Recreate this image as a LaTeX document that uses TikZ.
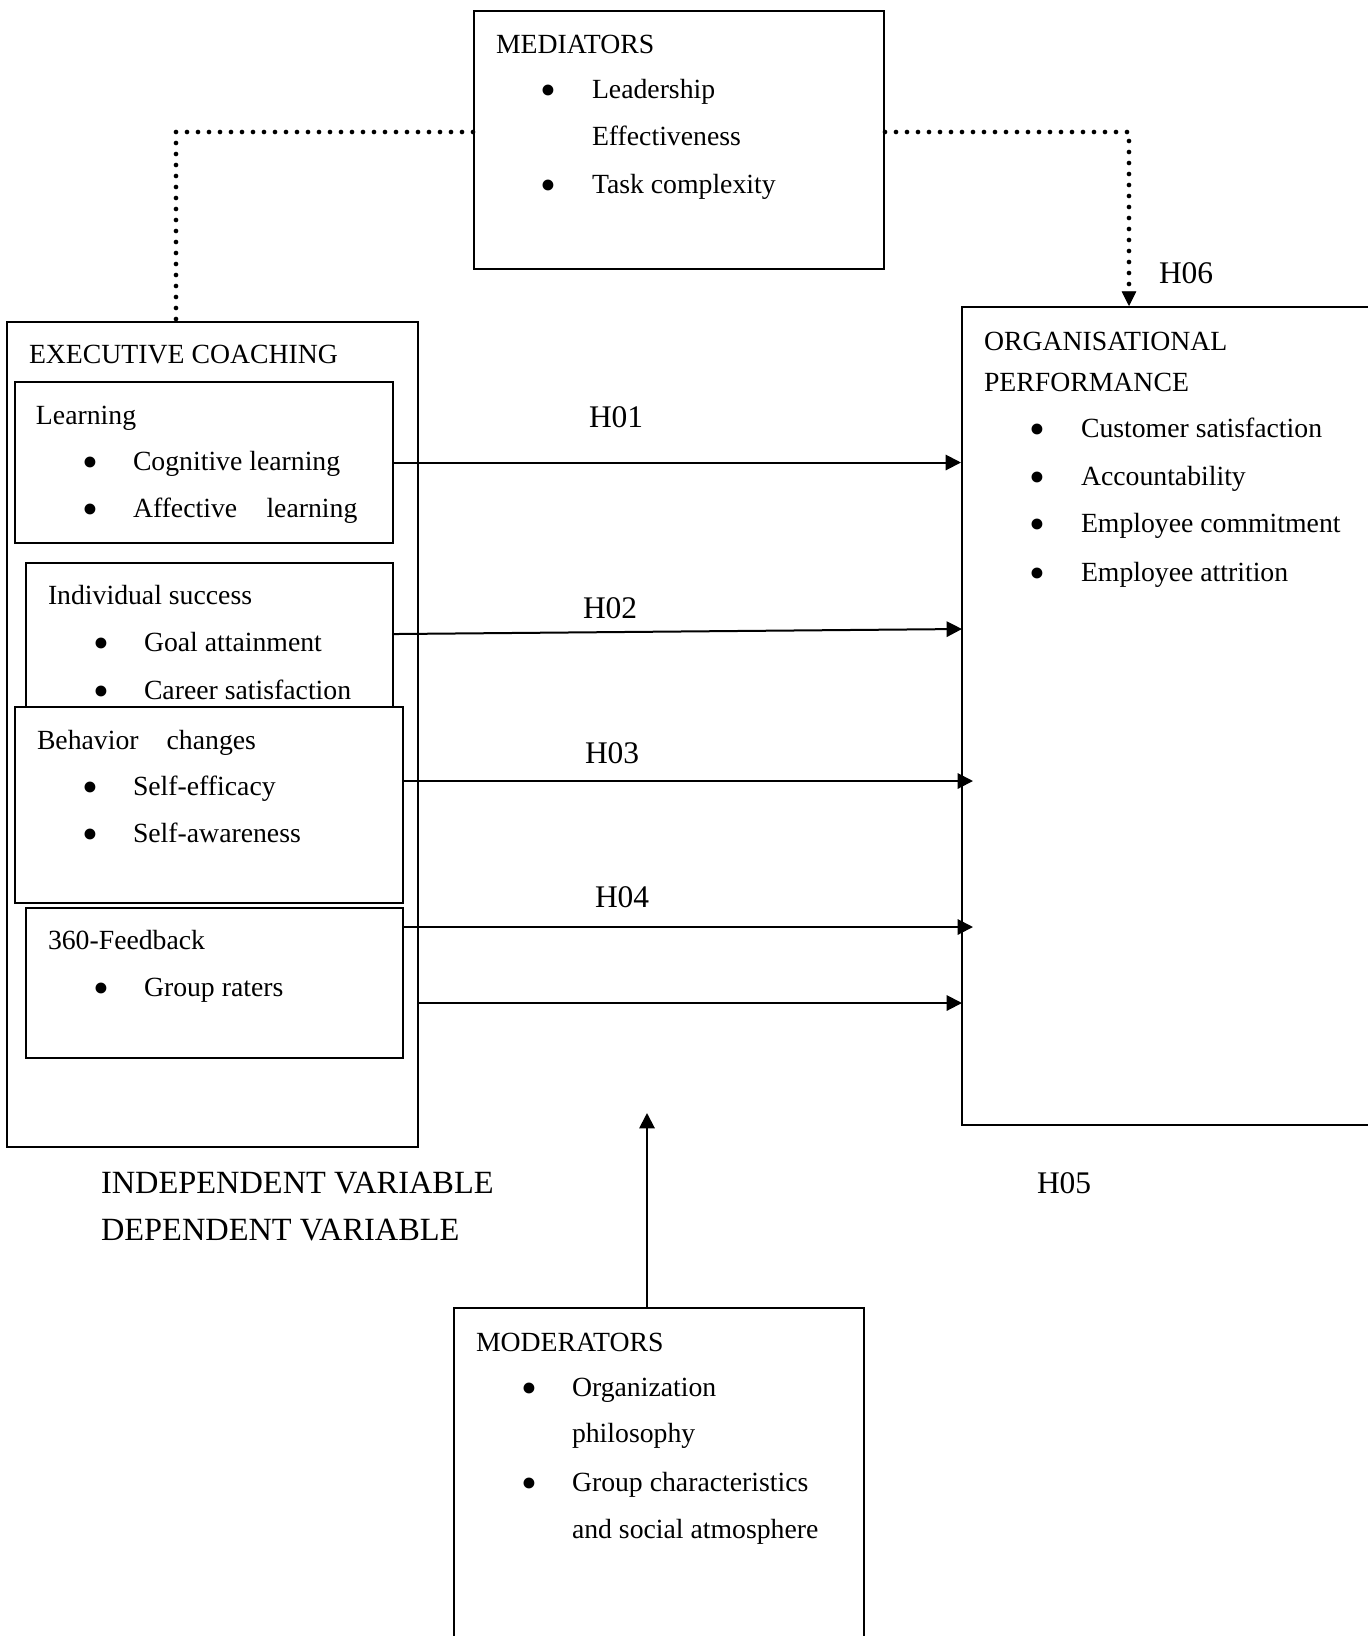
\documentclass[tikz,border=0pt]{standalone}
\usepackage{fontspec}
\setmainfont{Liberation Serif}
\usetikzlibrary{arrows.meta,fit,positioning}

\tikzset{every picture/.style={line width=1.5pt}}
\tikzset{
  boxx/.style={draw, inner sep=0pt, fill=white},
  txt/.style={anchor=base west, inner sep=0pt},
  bull/.style={anchor=base west, inner sep=0pt, font=\fontsize{34}{34}\selectfont},
  hlab/.style={anchor=base west, inner sep=0pt, font=\fontsize{23.6}{28}\selectfont},
  vlab/.style={anchor=base west, inner sep=0pt, font=\fontsize{24.3}{29}\selectfont},
  arr/.style={-{Triangle[length=11.5pt,width=11.5pt]}},
  dotline/.style={line width=3.5pt, dash pattern=on 0pt off 8.25pt, line cap=round}
}

\begin{document}
\begin{tikzpicture}[x=0.75pt,y=0.75pt,yscale=-1,xscale=1,font=\fontsize{20.8}{25}\selectfont]
\useasboundingbox (0,0) rectangle (1368,1636);

%Shape: Rectangle
\node[boxx, fit={(474,11) (884,269)}] (med) {};
%Shape: Rectangle
\node[boxx, fit={(7,322) (418,1147)}] (exec) {};
%Shape: Rectangle
\node[boxx, fit={(15,382) (393,543)}] (lrn) {};
%Shape: Rectangle
\node[boxx, fit={(26,563) (393,712)}] (ind) {};
%Shape: Rectangle
\node[boxx, fit={(15,707) (403,903)}] (beh) {};
%Shape: Rectangle
\node[boxx, fit={(26,908) (403,1058)}] (fb) {};
%Shape: Rectangle
\node[boxx, fit={(962,307) (1378,1125)}] (org) {};
%Shape: Rectangle
\node[boxx, fit={(454,1308) (864,1645)}] (mod) {};

% arrow ends
\coordinate (t2) at (962,629);
\coordinate (t3) at (973,781);
\coordinate (t4) at (973,927);
\coordinate (t5) at (962,1003);
\coordinate (t6) at (647,1113);
\coordinate (d1) at (176,132);
\coordinate (d2) at (1129,132);

%Straight Lines
\draw[arr] (lrn.east) -- (lrn.east -| org.west);
%Straight Lines
\draw[arr] ([yshift=-2.6pt]ind.east) -- (t2);
%Straight Lines
\draw[arr] (beh.east |- t3) -- (t3);
%Straight Lines
\draw[arr] (fb.east |- t4) -- (t4);
%Straight Lines
\draw[arr] (exec.east |- t5) -- (t5);
%Straight Lines
\draw[arr] (mod.north -| t6) -- (t6);
%Dotted Lines
\draw[dotline] (med.west |- d1) -- (d1) -- (d1 |- exec.north);
\draw[dotline, -{Triangle[length=11pt,width=11pt,line width=0.5pt]}] (med.east |- d2) -- (d2) -- (d2 |- org.north);

% Text Node
\node[txt] (medT) at (495,53) {MEDIATORS};
\node[bull] (medB1) at (539.5,105.3) {•};
\node[txt] (medL1) at (591,98) {Leadership};
\node[txt] (medL2) at (591,145) {Effectiveness};
\node[bull] (medB2) at (539.5,200.3) {•};
\node[txt] (medL3) at (591,193) {Task complexity};

% Text Node
\node[txt] (execT) at (28,363) {EXECUTIVE COACHING};
\node[txt] (lrnT) at (35,424) {Learning};
\node[bull] (lrnB1) at (81.5,477.3) {•};
\node[txt] (lrnL1) at (132,470) {Cognitive learning};
\node[bull] (lrnB2) at (81.5,524.3) {•};
\node[txt] (lrnL2) at (132,517) {Affective\hspace{22pt}learning};

% Text Node
\node[txt] (indT) at (47,604) {Individual success};
\node[bull] (indB1) at (92,658.3) {•};
\node[txt] (indL1) at (143,651) {Goal attainment};
\node[bull] (indB2) at (92,706.3) {•};
\node[txt] (indL2) at (143,699) {Career satisfaction};

% Text Node
\node[txt] (behT) at (36,749) {Behavior\hspace{21pt}changes};
\node[bull] (behB1) at (81.5,802.3) {•};
\node[txt] (behL1) at (132,795) {Self-efficacy};
\node[bull] (behB2) at (81.5,849.3) {•};
\node[txt] (behL2) at (132,842) {Self-awareness};

% Text Node
\node[txt] (fbT) at (47,949) {360-Feedback};
\node[bull] (fbB1) at (92,1003.3) {•};
\node[txt] (fbL1) at (143,996) {Group raters};

% Text Node
\node[txt] (orgT1) at (983,350) {ORGANISATIONAL};
\node[txt] (orgT2) at (983,391) {PERFORMANCE};
\node[bull] (orgB1) at (1028.5,444.3) {•};
\node[txt] (orgL1) at (1080,437) {Customer satisfaction};
\node[bull] (orgB2) at (1028.5,492.3) {•};
\node[txt] (orgL2) at (1080,485) {Accountability};
\node[bull] (orgB3) at (1028.5,539.3) {•};
\node[txt] (orgL3) at (1080,532) {Employee commitment};
\node[bull] (orgB4) at (1028.5,588.3) {•};
\node[txt] (orgL4) at (1080,581) {Employee attrition};

% Text Node
\node[txt] (modT) at (475,1351) {MODERATORS};
\node[bull] (modB1) at (520,1403.3) {•};
\node[txt] (modL1) at (571,1396) {Organization};
\node[txt] (modL2) at (571,1442) {philosophy};
\node[bull] (modB2) at (520,1498.3) {•};
\node[txt] (modL3) at (571,1491) {Group characteristics};
\node[txt] (modL4) at (571,1538) {and social atmosphere};

% Text Node
\node[hlab] (h01) at (588,427) {H01};
\node[hlab] (h02) at (582,618) {H02};
\node[hlab] (h03) at (584,763) {H03};
\node[hlab] (h04) at (594,907) {H04};
\node[hlab] (h05) at (1036,1193) {H05};
\node[hlab] (h06) at (1158,283) {H06};
\node[vlab] (indep) at (100,1193) {INDEPENDENT VARIABLE};
\node[vlab] (dep) at (100,1240) {DEPENDENT VARIABLE};

\end{tikzpicture}
\end{document}
